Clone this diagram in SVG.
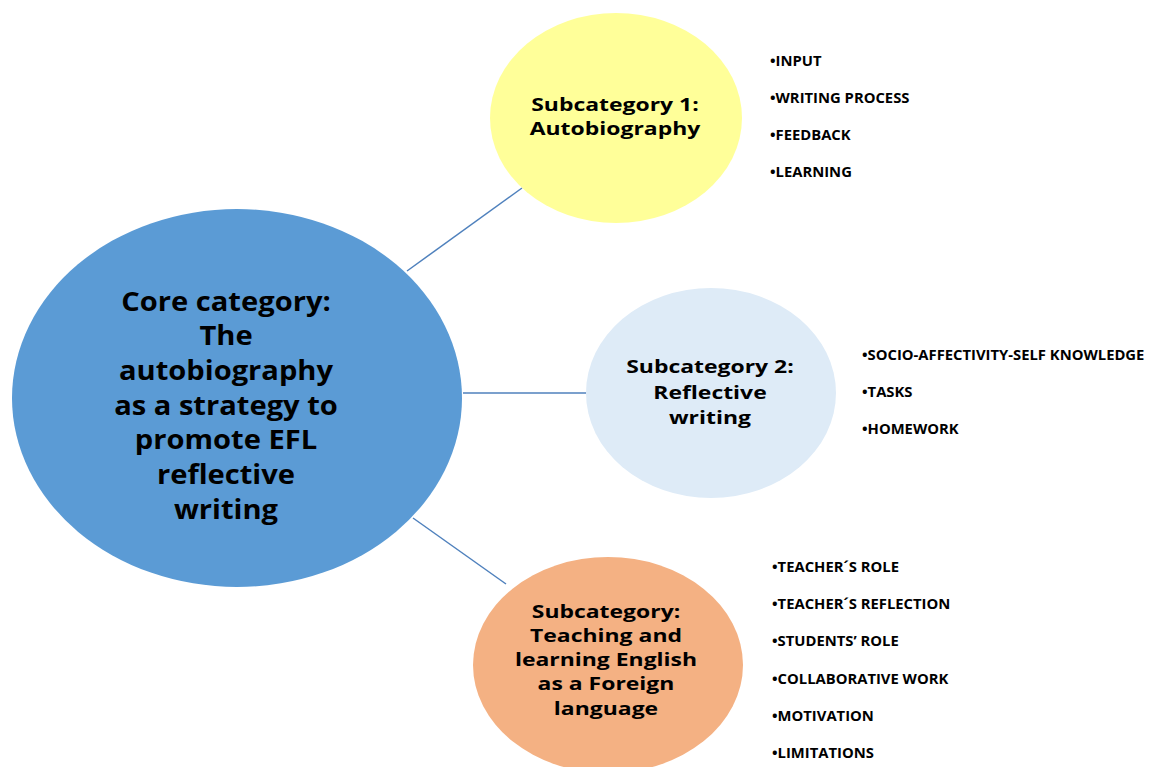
<svg xmlns="http://www.w3.org/2000/svg" width="1151" height="767" viewBox="0 0 1151 767">
<style>
.t{font-family:"Open Sans","Noto Sans","Liberation Sans",sans-serif;font-weight:700;fill:#000;text-anchor:middle}
.core{font-size:26px}
.sub{font-size:18.5px}
.li{font-family:"Open Sans","Noto Sans","Liberation Sans",sans-serif;font-weight:700;font-size:14.8px;fill:#000}
.conn{stroke:#4F81BD;stroke-width:1.5;fill:none}
</style>
<rect width="1151" height="767" fill="#fff"/>
<g id="connectors">
<line class="conn" x1="407" y1="271" x2="522" y2="188"/>
<line class="conn" x1="463" y1="393" x2="586" y2="393"/>
<line class="conn" x1="413" y1="518" x2="506" y2="584"/>
</g>
<g id="core">
<ellipse cx="237" cy="398" rx="225" ry="189" fill="#5B9BD5"/>
<g transform="translate(226,0) scale(1.12,1)">
<text class="t core" x="0" y="311">Core category:</text>
<text class="t core" x="0" y="345">The</text>
<text class="t core" x="0" y="380">autobiography</text>
<text class="t core" x="0" y="415">as a strategy to</text>
<text class="t core" x="0" y="449">promote EFL</text>
<text class="t core" x="0" y="484">reflective</text>
<text class="t core" x="0" y="519">writing</text>
</g>
</g>
<g id="sub1">
<ellipse cx="616" cy="118" rx="126" ry="105" fill="#FFFF99"/>
<g transform="translate(615,0) scale(1.24,1)">
<text class="t sub" x="0" y="111">Subcategory 1:</text>
<text class="t sub" x="0" y="135">Autobiography</text>
</g>
</g>
<g id="sub1-list">
<text class="li" x="770" y="66">•INPUT</text>
<text class="li" x="770" y="103">•WRITING PROCESS</text>
<text class="li" x="770" y="140">•FEEDBACK</text>
<text class="li" x="770" y="177">•LEARNING</text>
</g>
<g id="sub2">
<ellipse cx="711" cy="393" rx="125" ry="105" fill="#DEEBF7"/>
<g transform="translate(710,0) scale(1.24,1)">
<text class="t sub" x="0" y="373">Subcategory 2:</text>
<text class="t sub" x="0" y="399">Reflective</text>
<text class="t sub" x="0" y="424">writing</text>
</g>
</g>
<g id="sub2-list">
<text class="li" x="862" y="360">•SOCIO-AFFECTIVITY-SELF KNOWLEDGE</text>
<text class="li" x="862" y="397">•TASKS</text>
<text class="li" x="862" y="434">•HOMEWORK</text>
</g>
<g id="sub3">
<ellipse cx="608" cy="665" rx="135" ry="108" fill="#F4B183"/>
<g transform="translate(606,0) scale(1.24,1)">
<text class="t sub" x="0" y="618">Subcategory:</text>
<text class="t sub" x="0" y="642">Teaching and</text>
<text class="t sub" x="0" y="666">learning English</text>
<text class="t sub" x="0" y="690">as a Foreign</text>
<text class="t sub" x="0" y="715">language</text>
</g>
</g>
<g id="sub3-list">
<text class="li" x="772" y="572">•TEACHER´S ROLE</text>
<text class="li" x="772" y="609">•TEACHER´S REFLECTION</text>
<text class="li" x="772" y="646">•STUDENTS’ ROLE</text>
<text class="li" x="772" y="684">•COLLABORATIVE WORK</text>
<text class="li" x="772" y="721">•MOTIVATION</text>
<text class="li" x="772" y="758">•LIMITATIONS</text>
</g>
</svg>
